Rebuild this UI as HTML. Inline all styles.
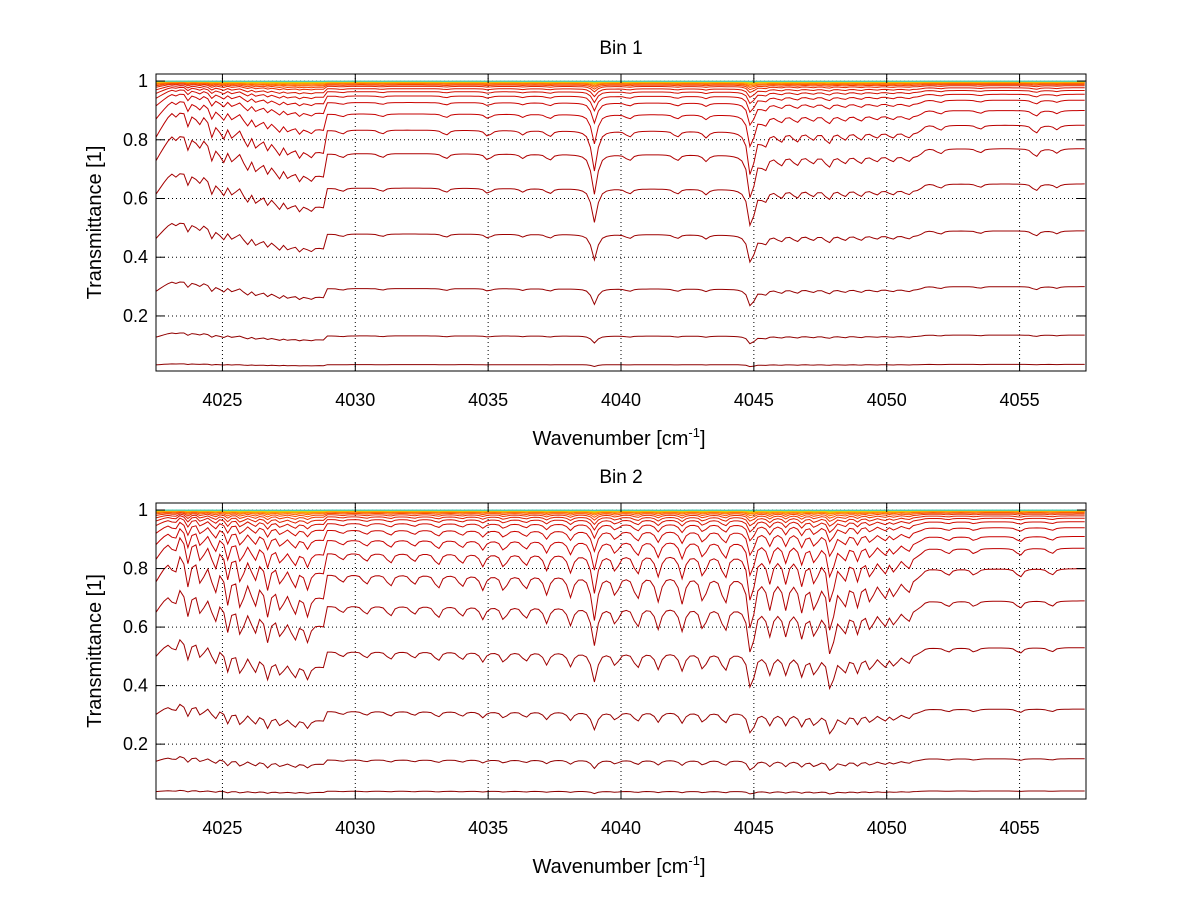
<!DOCTYPE html>
<html><head><meta charset="utf-8">
<style>
body{margin:0;background:#fff;}
svg{display:block;font-family:"Liberation Sans",sans-serif;}
</style></head>
<body>
<svg id="fig" width="1200" height="901" viewBox="0 0 1200 901">
<rect width="1200" height="901" fill="#fff"/>
</svg>
<script>
// ---- data ----
const xTicks = [4025, 4030, 4035, 4040, 4045, 4050, 4055];
const yTicks = [0.2, 0.4, 0.6, 0.8, 1];
const xRange = [4022.5, 4057.5];
const yRange = [0.0125, 1.024];
const titles = ["Bin 1", "Bin 2"];
// transmittance level of each curve at right edge
const levels1 = [0.004, 0.035, 0.135, 0.30, 0.49, 0.65, 0.77, 0.85, 0.90, 0.935, 0.955, 0.968, 0.977, 0.984, 0.988, 0.991, 0.993, 0.995, 0.996, 0.997, 0.998, 0.9985, 0.999, 0.9994, 0.9997];
const levels2 = [0.004, 0.04, 0.15, 0.32, 0.53, 0.69, 0.80, 0.87, 0.91, 0.94, 0.96, 0.972, 0.98, 0.986, 0.99, 0.993, 0.995, 0.996, 0.997, 0.998, 0.9985, 0.999, 0.9994, 0.9997];
// line centers and strengths (relative optical depth)
const lines1Pos = [4023.3,4023.7,4024.1,4024.6,4025.0,4025.4,4025.9,4026.3,4026.7,4027.1,4027.5,4027.9,4028.3,4029.5,4031.0,4033.4,4035.0,4036.3,4037.3,4039.0,4040.3,4042.1,4043.2,4044.9,4045.4,4046.0,4046.6,4047.2,4047.8,4048.4,4049.0,4049.6,4050.2,4050.8,4052.0,4053.5,4055.6,4056.4];
const lines1Str = [0.07,0.09,0.07,0.1,0.1,0.08,0.1,0.09,0.07,0.09,0.07,0.06,0.05,0.02,0.02,0.025,0.03,0.02,0.03,0.2,0.03,0.03,0.03,0.25,0.07,0.05,0.05,0.04,0.06,0.04,0.04,0.03,0.03,0.03,0.025,0.02,0.04,0.02];
const lines2Pos = [4023.2,4023.7,4024.2,4024.7,4025.2,4025.7,4026.2,4026.7,4027.2,4027.7,4028.2,4029.5,4030.4,4031.3,4032.2,4033.1,4034.0,4034.8,4035.6,4036.4,4037.2,4038.1,4039.0,4039.8,4040.6,4041.4,4042.3,4043.1,4043.9,4044.9,4045.6,4046.2,4046.8,4047.3,4047.9,4048.4,4048.9,4049.4,4049.9,4050.3,4050.8,4052.3,4053.3,4055.0,4056.2];
const lines2Str = [0.12,0.16,0.14,0.16,0.18,0.2,0.16,0.18,0.14,0.14,0.12,0.04,0.05,0.06,0.05,0.07,0.06,0.07,0.08,0.07,0.09,0.1,0.22,0.1,0.12,0.12,0.13,0.13,0.14,0.3,0.15,0.15,0.16,0.16,0.3,0.14,0.13,0.12,0.1,0.09,0.08,0.03,0.03,0.04,0.03];
// continuum multiplier: breakpoints (x) and relative transmittance factor
const contX = [4022.5, 4023.3, 4028.8, 4028.95, 4051.2, 4051.5, 4057.5];
const contV = [0.95, 1.12, 0.88, 0.98, 0.97, 1.0, 1.0];

// ---- drawing ----
const NS = "http://www.w3.org/2000/svg";
const svg = document.getElementById("fig");
function mk(tag, attrs, parent){const e=document.createElementNS(NS,tag);for(const k in attrs)e.setAttribute(k,attrs[k]);(parent||svg).appendChild(e);return e;}
function cont(x){for(let i=0;i<contX.length-1;i++){if(x<=contX[i+1]){const t=(x-contX[i])/(contX[i+1]-contX[i]);return contV[i]+t*(contV[i+1]-contV[i]);}}return contV[contV.length-1];}
function colorFor(i,n){
  const stops=[[140,0,0],[200,0,0],[215,20,0],[255,90,0],[255,150,0],[245,220,0],[150,215,60],[60,200,200]];
  const f=Math.pow(i/(n-1),1.8)*(stops.length-1);const k=Math.min(Math.floor(f),stops.length-2);const t=f-k;
  const c=stops[k].map((v,j)=>Math.round(v+t*(stops[k+1][j]-v)));return `rgb(${c[0]},${c[1]},${c[2]})`;
}
function panel(idx, top, bottom, levels, lp, ls){
  const L=156,R=1086;
  const sx=x=>L+(x-xRange[0])/(xRange[1]-xRange[0])*(R-L);
  const sy=y=>bottom-(y-yRange[0])/(yRange[1]-yRange[0])*(bottom-top);
  const g=mk("g",{});
  
  
  const cid="clip"+idx;
  const cp=mk("clipPath",{id:cid},g);mk("rect",{x:L,y:top,width:R-L,height:bottom-top},cp);
  xTicks.forEach(v=>{const l=mk("line",{x1:sx(v),x2:sx(v),y1:top,y2:bottom,stroke:"#000","stroke-width":1,"stroke-dasharray":"1,3"},g);});
  yTicks.forEach(v=>{const l=mk("line",{x1:L,x2:R,y1:sy(v),y2:sy(v),stroke:"#000","stroke-width":1,"stroke-dasharray":"1,3"},g);});
  const cg=mk("g",{"clip-path":`url(#${cid})`},g);
  
  
  const n=levels.length;
  for(let i=0;i<n;i++){
    const lev=levels[i];
    const s=Math.min(1,(1-lev)*6);
    let d="";
    for(let x=xRange[0];x<=xRange[1]+1e-9;x+=0.15){
      let od=0;
      for(let k=0;k<lp.length;k++){const u=(x-lp[k])/0.12;od+=ls[k]/(1+u*u);}
      const m=1+(cont(x)-1)*s;
      const T=Math.min(1.01,lev*m)*Math.exp(-od*s);
      d+=(d?"L":"M")+sx(x).toFixed(1)+","+sy(T).toFixed(1);
    }
    const p=mk("path",{d:d,fill:"none",stroke:colorFor(i,n),"stroke-width":1},cg);
    
    
  }
  const b=mk("rect",{x:L,y:top,width:R-L,height:bottom-top,fill:"none",stroke:"#000","stroke-width":1},g);
  
  xTicks.forEach(v=>{
    mk("line",{x1:sx(v),x2:sx(v),y1:bottom,y2:bottom-9,stroke:"#000"},g);
    mk("line",{x1:sx(v),x2:sx(v),y1:top,y2:top+9,stroke:"#000"},g);
    const t=mk("text",{x:sx(v),y:bottom+35,"text-anchor":"middle","font-size":18},g);t.textContent=v;
    
  });
  yTicks.forEach(v=>{
    mk("line",{x1:L,x2:L+9,y1:sy(v),y2:sy(v),stroke:"#000"},g);
    mk("line",{x1:R,x2:R-9,y1:sy(v),y2:sy(v),stroke:"#000"},g);
    const t=mk("text",{x:L-8,y:sy(v)+6,"text-anchor":"end","font-size":18},g);t.textContent=v;
    
  });
  const ti=mk("text",{x:(L+R)/2,y:top-20,"text-anchor":"middle","font-size":19},g);ti.textContent=titles[idx];
  
  const xl=mk("text",{x:(L+R)/2-2,y:bottom+74,"text-anchor":"middle","font-size":20},g);
  
  xl.innerHTML='Wavenumber [cm<tspan dy="-8" font-size="13">-1</tspan><tspan dy="8">]</tspan>';
  const yl=mk("text",{x:0,y:0,"text-anchor":"middle","font-size":20,transform:`translate(101,${(top+bottom)/2}) rotate(-90)`},g);
  yl.textContent="Transmittance [1]";
  
}
panel(0,74,371,levels1,lines1Pos,lines1Str);
panel(1,503,799,levels2,lines2Pos,lines2Str);
</script>
</body></html>
